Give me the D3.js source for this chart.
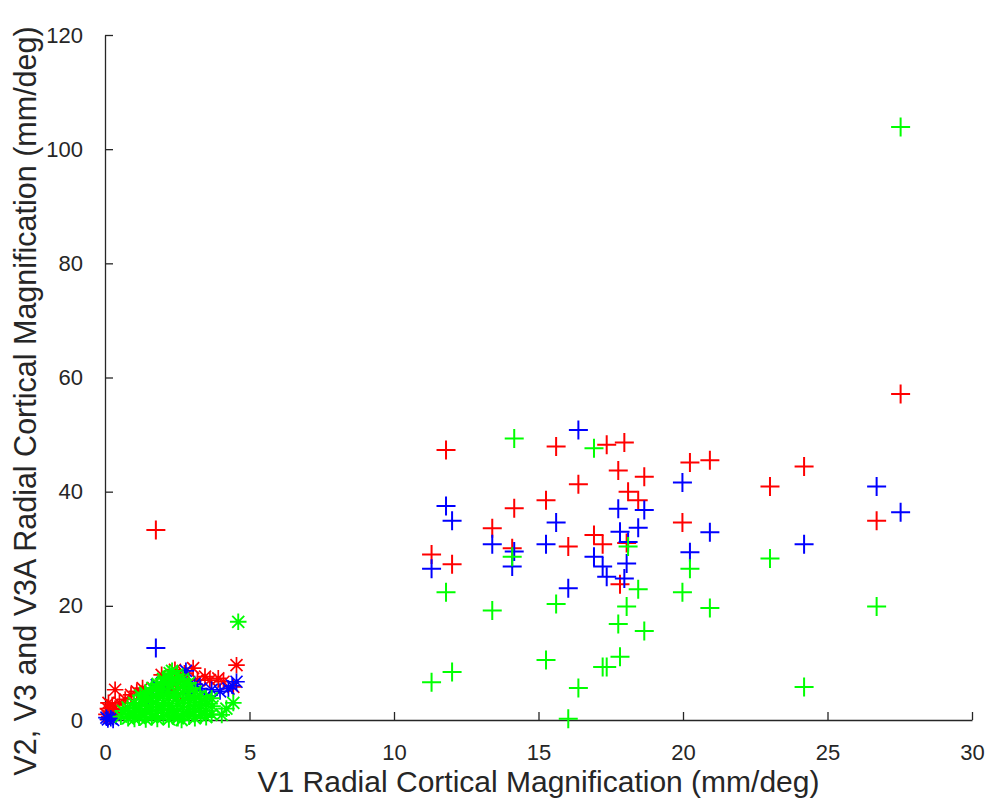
<!DOCTYPE html>
<html>
<head>
<meta charset="utf-8">
<script src="https://cdn.jsdelivr.net/npm/d3@7"></script>
<style>
  body { margin: 0; background: #fff; }
  svg { display: block; font-family: "Liberation Sans", Arial, sans-serif; }
</style>
</head>
<body>
<div id="chart"></div>
<script>
// ---- data ----

// '+' markers: one V1 value per subject, with V2 (red), V3 (blue), V3A (green)
const plusV1 = [1.76, 11.30, 11.80, 12.01, 13.40, 14.09, 14.16, 15.26, 15.61, 16.03,
  16.38, 16.92, 17.22, 17.36, 17.76, 17.82, 17.97, 18.05, 18.10, 18.45,
  18.66, 19.98, 20.24, 20.93, 23.01, 24.19, 26.70, 27.53];
const plusV2 = [33.3, 29.0, 47.3, 27.3, 33.6, 30.1, 37.1, 38.5, 47.9, 30.4,
  41.3, 32.4, 30.8, 48.2, 43.7, 23.8, 48.6, 31.0, 40.0, 38.5,
  42.6, 34.6, 45.1, 45.5, 40.9, 44.4, 34.9, 57.1];
const plusV3 = [12.6, 26.5, 37.5, 34.9, 30.8, 26.9, 29.5, 30.8, 34.6, 23.1,
  50.8, 28.6, 26.9, 25.1, 37.0, 33.0, 24.8, 27.4, 31.2, 33.7,
  36.8, 41.6, 29.4, 32.9, null, 30.8, 40.9, 36.4];
const plusV3A = [null, 6.6, 22.4, 8.4, 19.2, 28.6, 49.3, 10.5, 20.3, 0.2,
  5.6, 47.6, 9.3, 9.3, 16.8, 11.1, null, 19.9, 30.4, 22.9,
  15.6, 22.4, 26.5, 19.6, 28.3, 5.8, 19.9, 103.9];

// '*' markers near the origin, [V1, value]
const starV2 = [
  [0.05, 1.0], [0.10, 2.0], [0.15, 0.6], [0.20, 1.5], [0.25, 2.6], [0.30, 1.0],
  [0.12, 3.0], [0.35, 2.0], [0.35, 5.3], [0.50, 3.0], [0.70, 3.6], [0.90, 4.4],
  [1.10, 5.0], [1.30, 5.6], [1.96, 7.9], [2.10, 6.5], [2.30, 5.5], [2.45, 4.6],
  [2.50, 6.8], [2.60, 7.0], [2.42, 8.8], [2.88, 6.1], [3.05, 9.1], [3.20, 7.0],
  [3.46, 7.6], [3.63, 7.0], [3.92, 7.3], [4.10, 6.7], [4.44, 5.8], [4.55, 9.6],
  [2.00, 5.5], [2.75, 8.2]
];
const starV3 = [
  [0.10, 0.1], [0.20, 0.3], [0.28, 0.0], [0.05, 0.4], [1.79, 6.1], [2.00, 5.2],
  [1.50, 4.0], [2.80, 8.6], [2.94, 4.7], [3.10, 6.3], [3.30, 5.5], [3.50, 4.2],
  [3.69, 5.3], [3.98, 5.0], [4.27, 5.5], [4.40, 6.0], [4.55, 6.7]
];
const starV3A = [
  [0.55, 0.6], [0.62, 1.6], [0.80, 0.3], [0.83, 1.2], [0.78, 2.2], [1.02, 0.2],
  [0.98, 1.0], [1.05, 2.0], [1.00, 3.0], [1.18, 0.4], [1.23, 1.4], [1.20, 2.5],
  [1.25, 3.6], [1.22, 4.3], [1.41, 0.1], [1.38, 1.0], [1.43, 2.0], [1.40, 3.0],
  [1.44, 4.0], [1.39, 4.8], [1.62, 0.5], [1.58, 1.6], [1.63, 2.7], [1.60, 3.8],
  [1.57, 5.0], [1.64, 5.6], [1.81, 0.2], [1.78, 1.2], [1.83, 2.3], [1.80, 3.4],
  [1.84, 4.6], [1.79, 5.7], [1.82, 6.3], [2.02, 0.6], [1.98, 1.8], [2.03, 3.0],
  [2.00, 4.2], [1.97, 5.4], [2.04, 6.6], [2.01, 7.2], [2.21, 0.1], [2.18, 1.3],
  [2.23, 2.5], [2.20, 3.8], [2.17, 5.0], [2.22, 6.2], [2.19, 7.4], [2.24, 8.2],
  [2.36, 0.7], [2.33, 2.0], [2.37, 4.4], [2.34, 6.8], [2.32, 8.6], [2.52, 0.3],
  [2.48, 1.5], [2.51, 2.9], [2.49, 4.0], [2.53, 5.5], [2.47, 7.0], [2.50, 8.0],
  [2.65, 0.0], [2.71, 1.1], [2.68, 2.3], [2.72, 3.5], [2.69, 4.8], [2.73, 6.2],
  [2.70, 7.2], [2.91, 0.6], [2.88, 1.8], [2.92, 3.0], [2.89, 4.4], [2.93, 5.6],
  [2.90, 6.5], [3.11, 0.3], [3.08, 1.4], [3.12, 2.6], [3.09, 3.8], [3.13, 5.0],
  [3.31, 0.8], [3.28, 2.0], [3.32, 3.2], [3.29, 4.2], [3.50, 0.5], [3.48, 1.6],
  [3.52, 2.8], [3.49, 3.7], [3.69, 1.0], [3.72, 2.4], [3.69, 3.8], [4.04, 0.9],
  [4.44, 3.0], [4.20, 2.0], [4.61, 17.2]
];

const xTicks = [0, 5, 10, 15, 20, 25, 30];
const yTicks = [0, 20, 40, 60, 80, 100, 120];

// ---- layout ----
const width = 993, height = 810;
const margin = { top: 35, right: 21, bottom: 90, left: 105 };
const ink = "#262626";

const svg = d3.select("#chart").append("svg")
  .attr("width", width)
  .attr("height", height);

const x = d3.scaleLinear().domain([0, 30]).range([margin.left, width - margin.right]);
const y = d3.scaleLinear().domain([0, 120]).range([height - margin.bottom, margin.top]);

// axes (MATLAB style: ticks inside, no box)
const xAxis = svg.append("g")
  .attr("transform", `translate(0,${y(0)})`)
  .call(d3.axisBottom(x).tickValues(xTicks).tickSize(-8).tickSizeOuter(0).tickPadding(24));
const yAxis = svg.append("g")
  .attr("transform", `translate(${x(0)},0)`)
  .call(d3.axisLeft(y).tickValues(yTicks).tickSize(-8).tickSizeOuter(0).tickPadding(22));

[xAxis, yAxis].forEach(g => {
  g.select(".domain").attr("stroke", ink).attr("stroke-width", 1.3);
  g.selectAll(".tick line").attr("stroke", ink).attr("stroke-width", 1.3);
  g.selectAll(".tick text").attr("fill", ink).style("font-size", "22px");
});

// markers
const plusPath = "M-9.5,0H9.5M0,-9.5V9.5";
const starPath = "M-8.3,0H8.3M0,-8.3V8.3M-6,-6L6,6M-6,6L6,-6";

function drawMarks(points, color, path, width) {
  svg.append("g")
    .selectAll("path")
    .data(points.filter(d => d[1] != null))
    .join("path")
    .attr("d", path)
    .attr("transform", d => `translate(${x(d[0])},${y(d[1])})`)
    .attr("fill", "none")
    .attr("stroke", color)
    .attr("stroke-width", width);
}

drawMarks(starV2, "#ff0000", starPath, 1.7);
drawMarks(starV3, "#0000ff", starPath, 1.7);
drawMarks(starV3A, "#00ff00", starPath, 1.9);

drawMarks(plusV1.map((v, i) => [v, plusV2[i]]), "#ff0000", plusPath, 2);
drawMarks(plusV1.map((v, i) => [v, plusV3[i]]), "#0000ff", plusPath, 2);
drawMarks(plusV1.map((v, i) => [v, plusV3A[i]]), "#00ff00", plusPath, 2);

// axis labels
svg.append("text")
  .attr("x", (x(0) + x(30)) / 2)
  .attr("y", 792)
  .attr("text-anchor", "middle")
  .attr("fill", ink)
  .style("font-size", "30px")
  .text("V1 Radial Cortical Magnification (mm/deg)");

svg.append("text")
  .attr("transform", `translate(36,401) rotate(-90)`)
  .attr("text-anchor", "middle")
  .attr("fill", ink)
  .style("font-size", "30.5px")
  .text("V2, V3 and V3A Radial Cortical Magnification (mm/deg)");
</script>
</body>
</html>
